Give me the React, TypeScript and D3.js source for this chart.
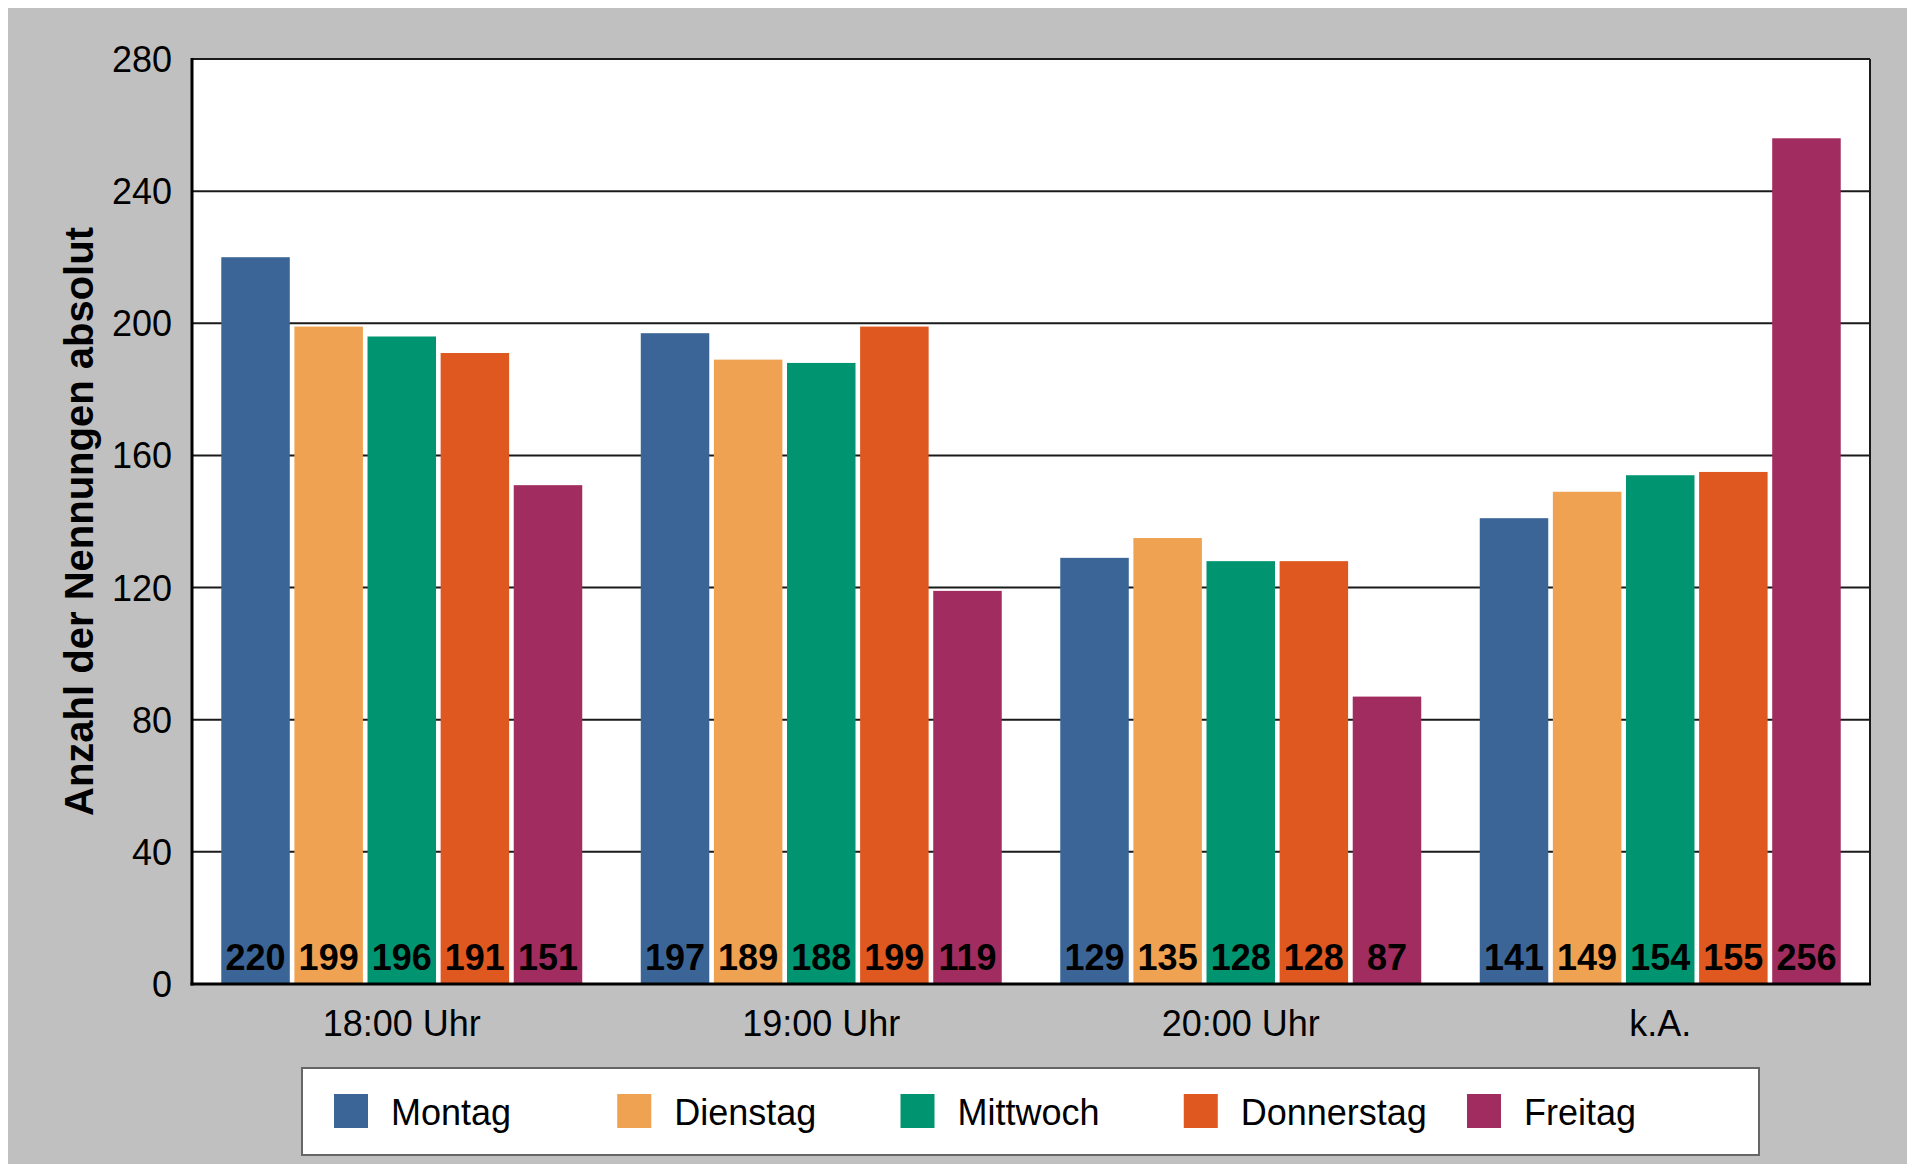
import React from "react";
import * as d3 from "d3";

const categories = ["18:00 Uhr", "19:00 Uhr", "20:00 Uhr", "k.A."];
const seriesNames = ["Montag", "Dienstag", "Mittwoch", "Donnerstag", "Freitag"];
const seriesColors = ["#3B6597", "#EFA352", "#009570", "#DE5820", "#A02C60"];
const montag = [220, 197, 129, 141];
const dienstag = [199, 189, 135, 149];
const mittwoch = [196, 188, 128, 154];
const donnerstag = [191, 199, 128, 155];
const freitag = [151, 119, 87, 256];
const yTicks = [0, 40, 80, 120, 160, 200, 240, 280];
const yTitle = "Anzahl der Nennungen absolut";

const seriesValues = [montag, dienstag, mittwoch, donnerstag, freitag];

export default function App() {
  const W = 1907;
  const H = 1164;
  const left = 192;
  const right = 1870;
  const top = 59;
  const bottom = 984;

  const x0 = d3
    .scaleBand<string>()
    .domain(categories)
    .range([left, right])
    .paddingInner(0.1395)
    .paddingOuter(0.0698);
  const x1 = d3
    .scaleBand<string>()
    .domain(seriesNames)
    .range([0, x0.bandwidth()])
    .paddingInner(0.063);
  const y = d3.scaleLinear().domain([0, 280]).range([bottom, top]);

  const font = "'Liberation Sans', Arial, Helvetica, sans-serif";

  const legendLeft = 302;
  const legendTop = 1068;
  const legendW = 1457;
  const legendH = 87;
  const legendStep = 283.25;

  return (
    <svg
      width={W}
      height={H}
      style={{ position: "fixed", left: 0, top: 0, display: "block" }}
      fontFamily={font}
    >
      <rect x={8} y={8} width={W - 8} height={H - 8} fill="#C0C0C0" />
      <rect x={left} y={top} width={right - left} height={bottom - top} fill="#FFFFFF" />
      {/* gridlines */}
      {yTicks
        .filter((t) => t > 0)
        .map((t) => (
          <line
            key={"g" + t}
            x1={left}
            x2={right}
            y1={y(t)}
            y2={y(t)}
            stroke="#1a1a1a"
            strokeWidth={2}
          />
        ))}
      {/* right border */}
      <line x1={right} x2={right} y1={top} y2={bottom} stroke="#1a1a1a" strokeWidth={2} />
      {/* bars */}
      {categories.map((c, ci) => (
        <g key={c} transform={`translate(${x0(c)},0)`}>
          {seriesNames.map((s, si) => {
            const v = seriesValues[si][ci];
            return (
              <rect
                key={s}
                x={x1(s)}
                y={y(v)}
                width={x1.bandwidth()}
                height={y(0) - y(v)}
                fill={seriesColors[si]}
              />
            );
          })}
          {seriesNames.map((s, si) => {
            const v = seriesValues[si][ci];
            return (
              <text
                key={"t" + s}
                x={(x1(s) as number) + x1.bandwidth() / 2}
                y={970}
                textAnchor="middle"
                fontSize={36}
                fontWeight="bold"
                fill="#000"
              >
                {v}
              </text>
            );
          })}
        </g>
      ))}
      {/* axes */}
      <line x1={left} x2={left} y1={top - 1} y2={bottom + 1.5} stroke="#000" strokeWidth={3} />
      <line x1={left - 1.5} x2={right + 1} y1={bottom} y2={bottom} stroke="#000" strokeWidth={3} />
      {/* y tick labels */}
      {yTicks.map((t) => (
        <text
          key={"yl" + t}
          x={172}
          y={y(t)}
          dy="0.36em"
          textAnchor="end"
          fontSize={36}
          fill="#000"
        >
          {t}
        </text>
      ))}
      {/* x labels */}
      {categories.map((c) => (
        <text
          key={"xl" + c}
          x={(x0(c) as number) + x0.bandwidth() / 2}
          y={1036}
          textAnchor="middle"
          fontSize={36}
          fill="#000"
        >
          {c}
        </text>
      ))}
      {/* y title */}
      <text
        transform={`translate(93, ${(top + bottom) / 2}) rotate(-90)`}
        textAnchor="middle"
        fontSize={40}
        fontWeight="bold"
        fill="#000"
      >
        {yTitle}
      </text>
      {/* legend */}
      <rect
        x={legendLeft}
        y={legendTop}
        width={legendW}
        height={legendH}
        fill="#FFFFFF"
        stroke="#666666"
        strokeWidth={2}
      />
      {seriesNames.map((s, i) => (
        <g key={"lg" + s} transform={`translate(${334 + i * legendStep}, 1094)`}>
          <rect x={0} y={0} width={34} height={34} fill={seriesColors[i]} />
          <text x={57} y={31} fontSize={36} fill="#000">
            {s}
          </text>
        </g>
      ))}
    </svg>
  );
}
